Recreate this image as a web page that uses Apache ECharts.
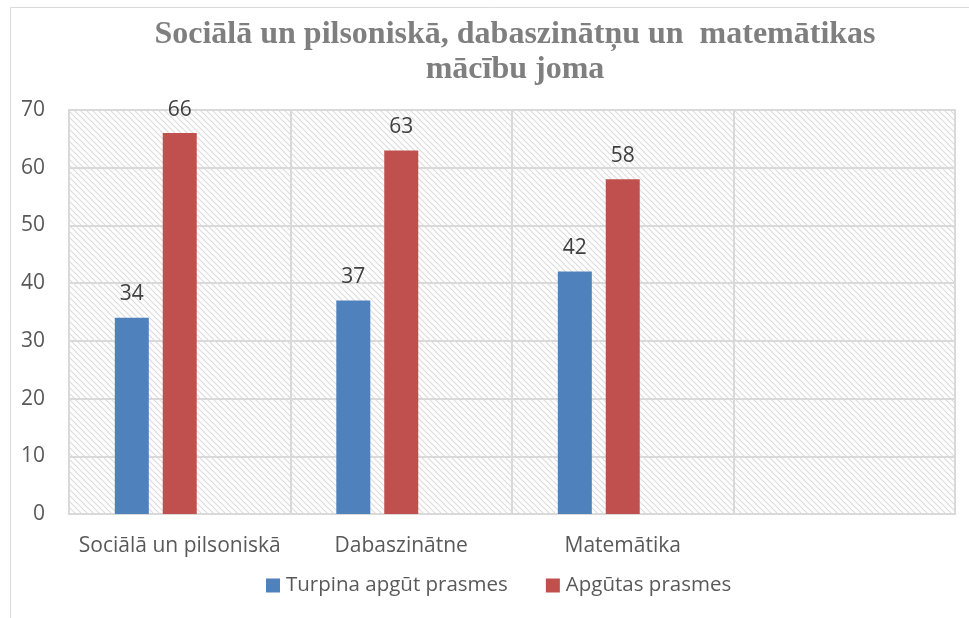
<!DOCTYPE html>
<html>
<head>
<meta charset="utf-8">
<script src="https://cdn.jsdelivr.net/npm/echarts@6/dist/echarts.min.js"></script>
<style>
html,body{margin:0;padding:0;background:#fff;}
#chart{width:969px;height:618px;}
</style>
</head>
<body>
<div id="chart"></div>
<script>
const categories = ['Sociālā un pilsoniskā', 'Dabaszinātne', 'Matemātika', ''];
const seriesNames = ['Turpina apgūt prasmes', 'Apgūtas prasmes'];
const turpina = [34, 37, 42, null];
const apgutas = [66, 63, 58, null];
const empty = [null, null, null, null];
const titleText = 'Sociālā un pilsoniskā, dabaszinātņu un  matemātikas\nmācību joma';

function hatch() {
  const c = document.createElement('canvas');
  c.width = 6; c.height = 6;
  const g = c.getContext('2d');
  g.fillStyle = '#ffffff';
  g.fillRect(0, 0, 6, 6);
  g.strokeStyle = '#dcdcdc';
  g.lineWidth = 1.1;
  g.beginPath();
  g.moveTo(-1, -1); g.lineTo(7, 7);
  g.moveTo(-4, 2); g.lineTo(4, 10);
  g.moveTo(2, -4); g.lineTo(10, 4);
  g.stroke();
  return c;
}

const FONT = '"Open Sans", sans-serif';
const chart = echarts.init(document.getElementById('chart'), null, {renderer: 'canvas'});
const labelStyle = {show: true, position: 'top', distance: 13, color: '#404040', fontSize: 21, fontFamily: FONT};
chart.setOption({
  animation: false,
  textStyle: {fontFamily: FONT},
  title: {
    text: titleText,
    left: 510, top: 12, textAlign: 'center',
    textStyle: {fontFamily: '"Liberation Serif", serif', fontWeight: 'bold', fontSize: 32, color: '#7f7f7f', lineHeight: 35}
  },
  graphic: [
    {type: 'line', shape: {x1: 10.5, y1: 7.5, x2: 969, y2: 7.5}, style: {stroke: '#d9d9d9', lineWidth: 1}},
    {type: 'line', shape: {x1: 10.5, y1: 7.5, x2: 10.5, y2: 618}, style: {stroke: '#d9d9d9', lineWidth: 1}}
  ],
  legend: {
    top: 575, left: 266, padding: 0,
    itemWidth: 14, itemHeight: 14, itemGap: 38,
    icon: 'rect',
    data: seriesNames,
    textStyle: {color: '#595959', fontSize: 20.5, fontFamily: FONT, padding: [0, 0, 0, 1]}
  },
  grid: {
    left: 69, right: 14, top: 110, bottom: 104,
    show: true,
    backgroundColor: {image: hatch(), repeat: 'repeat'},
    borderColor: '#d9d9d9', borderWidth: 2
  },
  xAxis: {
    type: 'category',
    data: categories,
    axisLine: {lineStyle: {color: '#d9d9d9', width: 2}},
    axisTick: {show: false},
    axisLabel: {color: '#595959', fontSize: 21, margin: 22, interval: 0},
    splitLine: {show: true, lineStyle: {color: '#d9d9d9', width: 2}}
  },
  yAxis: {
    type: 'value', min: 0, max: 70, interval: 10,
    axisLine: {show: false},
    axisTick: {show: false},
    axisLabel: {color: '#595959', fontSize: 21, margin: 24},
    splitLine: {lineStyle: {color: '#d9d9d9', width: 2}}
  },
  series: [
    {name: seriesNames[0], type: 'bar', data: turpina, barWidth: 34, barGap: '41%', barCategoryGap: '41%',
     itemStyle: {color: '#4f81bd'}, label: labelStyle},
    {name: seriesNames[1], type: 'bar', data: apgutas, barWidth: 34, barGap: '41%',
     itemStyle: {color: '#c0504d'}, label: labelStyle},
    {name: '', type: 'bar', data: empty, barWidth: 34, barGap: '41%'}
  ]
});
</script>
</body>
</html>
